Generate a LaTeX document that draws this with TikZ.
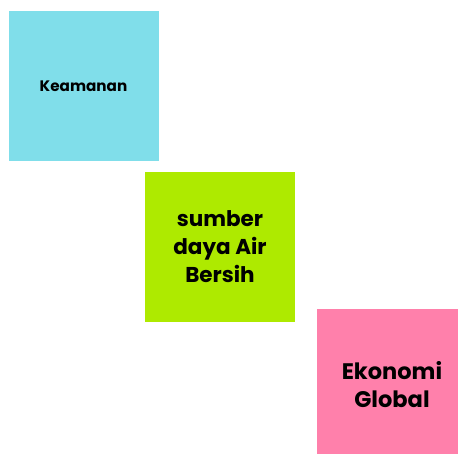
\documentclass[tikz,border=0pt]{standalone}
\usepackage{fontspec}
\setmainfont{Poppins}
\definecolor{tilecyan}{HTML}{80DEEA}
\definecolor{tilegreen}{HTML}{AEEA00}
\definecolor{tilepink}{HTML}{FF80AB}
\begin{document}
\begin{tikzpicture}[x=1pt,y=-1pt,
  tile/.style={rectangle, minimum width=150pt, minimum height=150pt,
    inner sep=0pt, align=center, font=\bfseries, text=black}]
  \useasboundingbox (0,0) rectangle (458,454);
  \clip (0,0) rectangle (458,454);
  \fill[white] (0,0) rectangle (458,454);
  \node[tile, fill=tilecyan, font=\bfseries\fontsize{15.2}{20}\selectfont]
    (keamanan) at (83.5,86) {Keamanan};
  \node[tile, fill=tilegreen, font=\bfseries\fontsize{21.5}{28}\selectfont]
    (air) at (220,247) {sumber\\daya Air\\Bersih};
  \node[tile, fill=tilepink, font=\bfseries\fontsize{22.5}{28}\selectfont]
    (ekonomi) at (392,384.5) {Ekonomi\\Global};
\end{tikzpicture}
\end{document}
